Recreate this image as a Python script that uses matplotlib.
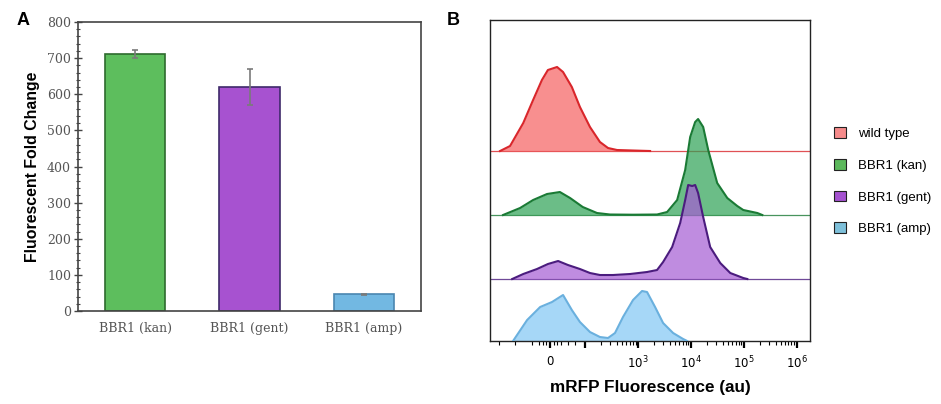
import numpy as np
import matplotlib
matplotlib.use('Agg')
import matplotlib.pyplot as plt
from matplotlib.patches import Patch
from matplotlib.ticker import AutoMinorLocator, FixedLocator

# panel A: fold change bars
strains = ['BBR1 (kan)', 'BBR1 (gent)', 'BBR1 (amp)']
fold_change = [712, 619, 46]
fold_err = [11, 50, 2]

# panel B: flow histograms (fluorescence au, relative counts)
wt_x = [-190, -123, -76, -48, -23, -6, 20, 37, 62, 85, 123, 190, 270, 399, 804, 1690]
wt_y = [0, 5, 28, 51, 71, 81, 84, 79, 64, 44, 24, 9, 3, 1, 0.5, 0]

kan_x = [-167, -85, -48, -8.5, 28, 57, 93, 167, 294, 804, 2290, 3550, 5500, 7800,
         9700, 12050, 13700, 17100, 21300, 31500, 48900, 75500, 98200, 181000, 225000]
kan_y = [0, 7, 15, 21, 23, 17, 8, 2, 0.5, 0.3, 0.5, 3, 15, 45,
         78, 93, 96, 88, 65, 32, 17, 9, 5, 2, 0]

gent_x = [-112, -76, -37, -6, 23, 51, 85, 123, 190, 335, 705, 1480, 2290, 2980, 4420,
          6270, 7800, 8890, 10600, 12050, 13700, 17100, 23200, 36000, 55700, 98200, 117000]
gent_y = [0, 5, 10, 15, 18, 14, 10, 6, 4, 4, 5, 7, 9, 17, 32,
          56, 79, 94, 93, 94, 86, 62, 32, 16, 6, 1, 0]

amp_x = [-108, -65, -28, 5.7, 28, 37, 62, 85, 123, 190, 270, 366, 519, 804,
         1190, 1480, 2100, 2980, 4610, 7140, 8510]
amp_y = [0, 21, 34, 39, 44, 46, 31, 19, 9, 4, 3, 8, 24, 41,
         50, 49, 34, 18, 8, 2, 0]

samples = ['wild type', 'BBR1 (kan)', 'BBR1 (gent)', 'BBR1 (amp)']

fig = plt.figure(figsize=(9.41, 4.04), dpi=100)

# ---- A ----
ax = fig.add_axes([0.0829, 0.2302, 0.3645, 0.7153])
bar_fc = ['#5dbe5d', '#a752d0', '#72b8e2']
bar_ec = ['#2e6b2e', '#3e2a6a', '#4a86b0']
pos = np.arange(len(strains))
ax.bar(pos, fold_change, width=0.53, color=bar_fc, edgecolor=bar_ec, linewidth=1.2, zorder=2)
ax.errorbar(pos, fold_change, yerr=fold_err, fmt='none', ecolor='#7a7a7a',
            elinewidth=1.2, capsize=2.5, capthick=1.2, zorder=3)
ax.set_xlim(-0.5, 2.5)
ax.set_ylim(0, 800)
ax.set_yticks(range(0, 801, 100))
ax.yaxis.set_minor_locator(AutoMinorLocator(5))
ax.set_xticks(pos)
ax.set_xticklabels(strains, family='DejaVu Serif', fontsize=9, color='#555555')
for lab in ax.get_yticklabels():
    lab.set_family('DejaVu Serif')
ax.tick_params(axis='y', which='major', direction='inout', length=6, width=1,
               labelsize=9, labelcolor='#555555', color='#444444', pad=2)
ax.tick_params(axis='y', which='minor', direction='inout', length=3.5, width=0.8, color='#444444')
ax.tick_params(axis='x', length=0, pad=8)
for s in ax.spines.values():
    s.set_color('#444444')
    s.set_linewidth(1.2)
ax.set_ylabel('Fluorescent Fold Change', family='Liberation Sans', fontweight='bold',
              fontsize=11.4, labelpad=5)

# ---- B ----
bx = fig.add_axes([0.5207, 0.1559, 0.3401, 0.7946])
bx.set_xscale('symlog', linthresh=100, linscale=0.6)
curves = [(wt_x, wt_y), (kan_x, kan_y), (gent_x, gent_y), (amp_x, amp_y)]
offsets = [190, 126, 62, 0]
fills = ['#f66060', '#2da254', '#a55bd3', '#80c7f4']
edges = ['#d9262b', '#1a7a35', '#4b1c7e', '#6ab0de']
for (xs, ys), off, fc, ec in zip(curves, offsets, fills, edges):
    ys = np.array(ys, dtype=float)
    if off > 0:
        bx.axhline(off, color=ec, lw=0.9, alpha=0.8, zorder=1)
    bx.fill_between(xs, off, off + ys, color=fc, alpha=0.7, lw=0, zorder=2)
    bx.plot(xs, off + ys, color=ec, lw=1.5, zorder=3)
bx.set_xlim(-295, 1.8e6)
bx.set_ylim(0, 321)
bx.set_yticks([])
bx.set_xticks([0, 100, 1e3, 1e4, 1e5, 1e6])
bx.set_xticklabels(['0', '', '$10^3$', '$10^4$', '$10^5$', '$10^6$'])
minor = [-200, -100, -50, -30, -20, -10, 10, 20, 30, 50, 70]
for d in [100, 1e3, 1e4, 1e5]:
    minor += [d * k for k in range(2, 10)]
bx.xaxis.set_minor_locator(FixedLocator(minor))
bx.tick_params(axis='x', which='major', length=5, width=1.6, labelsize=8.5, pad=5)
bx.tick_params(axis='x', which='minor', length=3, width=0.8)
for s in bx.spines.values():
    s.set_color('#222222')
    s.set_linewidth(1.0)
bx.set_xlabel('mRFP Fluorescence (au)', family='Liberation Sans', fontweight='bold',
              fontsize=12.3, labelpad=6)

handles = [Patch(facecolor=c, edgecolor='#222222', lw=0.8)
           for c in ['#f58a8a', '#5cb85c', '#a552d0', '#7ec0da']]
fig.legend(handles, samples, loc='upper left', bbox_to_anchor=(0.874, 0.715),
           frameon=False, prop={'family': 'Liberation Sans', 'size': 9.5},
           handlelength=0.9, handleheight=0.9, handletextpad=0.9, labelspacing=1.42)

fig.text(0.018, 0.97, 'A', fontsize=13, fontweight='bold', family='Liberation Sans', va='top')
fig.text(0.475, 0.97, 'B', fontsize=13, fontweight='bold', family='Liberation Sans', va='top')

fig.savefig('out.png', dpi=100)
